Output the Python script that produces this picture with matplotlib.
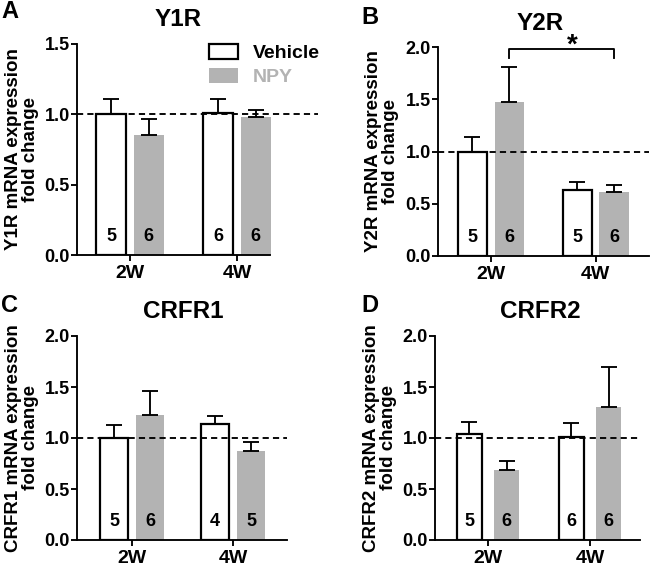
import matplotlib
matplotlib.use("Agg")
import matplotlib.pyplot as plt
from matplotlib.patches import Patch

plt.rcParams['font.family'] = ['Liberation Sans', 'DejaVu Sans']
plt.rcParams['font.weight'] = 'bold'

# ---------------- data ----------------
groups = ['2W', '4W']
series = ['Vehicle', 'NPY']

titles = ['Y1R', 'Y2R', 'CRFR1', 'CRFR2']
letters = ['A', 'B', 'C', 'D']
ylabels = ['Y1R mRNA expression\nfold change',
           'Y2R mRNA expression\nfold change',
           'CRFR1 mRNA expression\nfold change',
           'CRFR2 mRNA expression\nfold change']

y1r_vehicle = [1.00, 1.01]
y1r_vehicle_sem = [0.11, 0.10]
y1r_npy = [0.85, 0.98]
y1r_npy_sem = [0.12, 0.05]
y1r_n_vehicle = [5, 6]
y1r_n_npy = [6, 6]

y2r_vehicle = [1.00, 0.63]
y2r_vehicle_sem = [0.14, 0.08]
y2r_npy = [1.47, 0.61]
y2r_npy_sem = [0.34, 0.07]
y2r_n_vehicle = [5, 5]
y2r_n_npy = [6, 6]

crfr1_vehicle = [1.00, 1.14]
crfr1_vehicle_sem = [0.13, 0.08]
crfr1_npy = [1.23, 0.87]
crfr1_npy_sem = [0.23, 0.09]
crfr1_n_vehicle = [5, 4]
crfr1_n_npy = [6, 5]

crfr2_vehicle = [1.04, 1.01]
crfr2_vehicle_sem = [0.12, 0.14]
crfr2_npy = [0.69, 1.30]
crfr2_npy_sem = [0.08, 0.40]
crfr2_n_vehicle = [5, 6]
crfr2_n_npy = [6, 6]

yticks_a = [0.0, 0.5, 1.0, 1.5]
yticks_other = [0.0, 0.5, 1.0, 1.5, 2.0]

# ---------------- layout / style ----------------
W, H = 650, 566
GRAY = '#b3b3b3'
LW = 1.35

def rect(left, right, top, bottom):
    return [left / W, 1 - bottom / H, (right - left) / W, (bottom - top) / H]

panels = [
    dict(rect=rect(77, 318, 44, 255), ylim=1.5, yticks=yticks_a, xlim=(-0.495, 1.757), spine_end=1.308,
         off=0.175, width=0.28,
         veh=y1r_vehicle, veh_e=y1r_vehicle_sem, npy=y1r_npy, npy_e=y1r_npy_sem,
         nv=y1r_n_vehicle, nn=y1r_n_npy, title_xy=(178, 20), letter_xy=(1, 12), ylab_x=22),
    dict(rect=rect(438, 649, 47, 256), ylim=2.0, yticks=yticks_other, xlim=(-0.505, 1.51), spine_end=1.51,
         off=0.176, width=0.28,
         veh=y2r_vehicle, veh_e=y2r_vehicle_sem, npy=y2r_npy, npy_e=y2r_npy_sem,
         nv=y2r_n_vehicle, nn=y2r_n_npy, title_xy=(540, 23), letter_xy=(361, 18), ylab_x=382),
    dict(rect=rect(77, 287, 336, 540), ylim=2.0, yticks=yticks_other, xlim=(-0.545, 1.535), spine_end=1.535,
         off=0.178, width=0.28,
         veh=crfr1_vehicle, veh_e=crfr1_vehicle_sem, npy=crfr1_npy, npy_e=crfr1_npy_sem,
         nv=crfr1_n_vehicle, nn=crfr1_n_npy, title_xy=(183, 311), letter_xy=(1, 305), ylab_x=22),
    dict(rect=rect(435, 641, 336, 540), ylim=2.0, yticks=yticks_other, xlim=(-0.52, 1.50), spine_end=1.49,
         off=0.182, width=0.24,
         veh=crfr2_vehicle, veh_e=crfr2_vehicle_sem, npy=crfr2_npy, npy_e=crfr2_npy_sem,
         nv=crfr2_n_vehicle, nn=crfr2_n_npy, title_xy=(540, 311), letter_xy=(361, 306), ylab_x=380),
]

fig = plt.figure(figsize=(W / 100, H / 100), dpi=100)

for i, p in enumerate(panels):
    ax = fig.add_axes(p['rect'])
    xs = list(range(len(groups)))
    xv = [x - p['off'] for x in xs]
    xn = [x + p['off'] for x in xs]
    ax.bar(xv, p['veh'], width=p['width'], facecolor='white', edgecolor='black', linewidth=1.6, zorder=2)
    ax.bar(xn, p['npy'], width=p['width'], facecolor=GRAY, edgecolor='none', zorder=2)
    ax.errorbar(xv, p['veh'], yerr=[[0] * len(xs), p['veh_e']], fmt='none', ecolor='black',
                elinewidth=LW, capsize=6, capthick=LW, zorder=3)
    ax.errorbar(xn, p['npy'], yerr=[[0] * len(xs), p['npy_e']], fmt='none', ecolor='black',
                elinewidth=LW, capsize=6, capthick=LW, zorder=3)
    ax.axhline(1.0, color='black', linewidth=LW, linestyle=(0, (3.3, 2.2)), zorder=4)
    for x, n in zip(xv, p['nv']):
        ax.annotate(str(n), (x, 0), xytext=(0, 13.5), textcoords='offset points',
                    ha='center', va='center', fontsize=13, fontweight='bold', zorder=5)
    for x, n in zip(xn, p['nn']):
        ax.annotate(str(n), (x, 0), xytext=(0, 13.5), textcoords='offset points',
                    ha='center', va='center', fontsize=13, fontweight='bold', zorder=5)

    ax.set_xlim(*p['xlim'])
    ax.set_ylim(0, p['ylim'])
    ax.set_yticks(p['yticks'])
    ax.set_yticklabels([f'{t:.1f}' for t in p['yticks']], fontsize=13, fontweight='bold')
    ax.set_xticks(xs)
    ax.set_xticklabels(groups, fontsize=14, fontweight='bold')
    for s in ['top', 'right']:
        ax.spines[s].set_visible(False)
    for s in ['left', 'bottom']:
        ax.spines[s].set_linewidth(LW)
    ax.spines['bottom'].set_bounds(p['xlim'][0], p['spine_end'])
    ax.tick_params(axis='both', direction='out', length=4, width=LW, pad=1.2)
    ax.tick_params(axis='x', pad=3)

    # y label
    yc = p['rect'][1] + p['rect'][3] / 2
    fig.text(p['ylab_x'] / W, yc, ylabels[i], rotation=90, ha='center', va='center', fontsize=13.5,
             fontweight='bold', linespacing=1.0)
    # title and letter
    fig.text(p['title_xy'][0] / W, 1 - p['title_xy'][1] / H, titles[i], ha='center', va='center',
             fontsize=17.5, fontweight='bold')
    fig.text(p['letter_xy'][0] / W, 1 - p['letter_xy'][1] / H, letters[i], ha='left', va='center',
             fontsize=17, fontweight='bold')

    if i == 0:
        handles = [Patch(facecolor='white', edgecolor='black', linewidth=1.6),
                   Patch(facecolor=GRAY, edgecolor='none')]
        leg = ax.legend(handles, series, loc='upper left', bbox_to_anchor=(209 / W, 1 - 44 / H),
                        bbox_transform=fig.transFigure, frameon=False, fontsize=14,
                        handlelength=1.5, handleheight=0.8, handletextpad=0.75, labelspacing=0.3,
                        borderaxespad=0, borderpad=0)
        for t, c in zip(leg.get_texts(), ['black', GRAY]):
            t.set_color(c)
            t.set_fontweight('bold')
    if i == 1:
        # significance bracket between NPY 2W and NPY 4W
        yb = 1.98
        ax.plot([xn[0], xn[0], xn[1], xn[1]], [yb - 0.09, yb, yb, yb - 0.09], color='black',
                linewidth=LW, clip_on=False, zorder=5)
        ax.text((xn[0] + xn[1]) / 2 + 0.1, yb + 0.03, '*', ha='center', va='center',
                fontsize=20, fontweight='bold', clip_on=False)

fig.savefig('out.png', dpi=100)
